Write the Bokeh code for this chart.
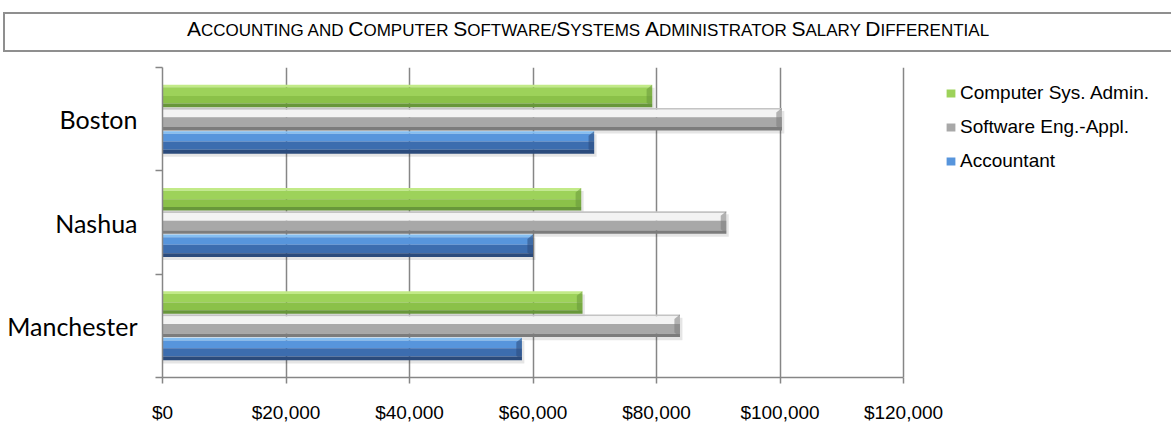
from bokeh.plotting import figure
from bokeh.models import (Range1d, FixedTicker, NumeralTickFormatter, Legend,
                          LegendItem, Div)
from bokeh.layouts import column
from bokeh.embed import file_html
from bokeh.resources import INLINE

# ---------------- data ----------------
cities = ["Manchester", "Nashua", "Boston"]
series_names = ["Computer Sys. Admin.", "Software Eng.-Appl.", "Accountant"]
sysadmin = [68000, 67800, 79300]
software = [83800, 91300, 100300]
accountant = [58200, 60000, 69900]
x_ticks = [0, 20000, 40000, 60000, 80000, 100000, 120000]
title_text = "Accounting and Computer Software/Systems Administrator Salary Differential"

series_values = [sysadmin, software, accountant]

# ---------------- styles ----------------
offsets = [0.225, 0.0, -0.225]
bar_h = 0.218
layers = [
    [(0.00, 0.12, "#c2ea88"), (0.12, 0.50, "#9dd25a"), (0.50, 0.84, "#8bc149"), (0.84, 1.00, "#68973a")],
    [(0.00, 0.08, "#c4c4c4"), (0.08, 0.42, "#f3f3f3"), (0.42, 0.85, "#a8a8a8"), (0.85, 1.00, "#7c7c7c")],
    [(0.00, 0.12, "#85bff2"), (0.12, 0.46, "#5795dc"), (0.46, 0.83, "#3c6daf"), (0.83, 1.00, "#2b4b7c")],
]
legend_layer = [1, 2, 1]
axis_col = "#868686"

# frame: 741 px for 0..120000, extended to the right edge so the legend sits inside
frame_left, frame_right_edge, px_full = 162, 1171, 741
x_end = x_ticks[-1] * (frame_right_edge - frame_left) / px_full

p = figure(width=1171, height=373, output_backend="svg", toolbar_location=None,
           x_range=Range1d(0, x_end), y_range=Range1d(0, 3),
           min_border_left=frame_left, min_border_right=0, min_border_top=15,
           min_border_bottom=48)
p.outline_line_color = None
p.background_fill_color = "white"
p.border_fill_color = "white"

# shadows
for k, vals in enumerate(series_values):
    ys = [i + 0.5 + offsets[k] - 0.03 for i in range(len(cities))]
    p.hbar(y=ys, left=0, right=[v + 400 for v in vals], height=bar_h,
           fill_color="black", fill_alpha=0.10, line_color=None)

legend_renderers = []
for k, vals in enumerate(series_values):
    for li, (ft, fb, col) in enumerate(layers[k]):
        ys = [i + 0.5 + offsets[k] + bar_h * (0.5 - (ft + fb) / 2) for i in range(len(cities))]
        r = p.hbar(y=ys, left=0, right=vals, height=bar_h * (fb - ft),
                   fill_color=col, line_color=None)
        if li == legend_layer[k]:
            legend_renderers.append(r)
    # right-end bevel facet
    xs, yy = [], []
    for i, v in enumerate(vals):
        yc = i + 0.5 + offsets[k]
        d = 900
        xs.append([v - d, v, v, v - d])
        yy.append([yc + bar_h * 0.3, yc + bar_h * 0.5, yc - bar_h * 0.5, yc - bar_h * 0.3])
    p.patches(xs, yy, fill_color=layers[k][3][2], fill_alpha=0.55, line_color=None)

# grid
p.xgrid.ticker = FixedTicker(ticks=x_ticks)
p.xgrid.grid_line_color = axis_col
p.xgrid.grid_line_width = 1.5
p.ygrid.grid_line_color = None

# x axis
xa = p.xaxis[0]
xa.ticker = FixedTicker(ticks=x_ticks)
xa.bounds = (x_ticks[0], x_ticks[-1])
xa.formatter = NumeralTickFormatter(format="$0,0")
xa.axis_line_color = axis_col
xa.axis_line_width = 1.5
xa.major_tick_line_color = axis_col
xa.major_tick_line_width = 1.5
xa.major_tick_out = 6
xa.major_tick_in = 0
xa.minor_tick_line_color = None
xa.major_label_text_font = "Liberation Sans"
xa.major_label_text_font_size = "19px"
xa.major_label_text_color = "black"
xa.major_label_standoff = 18

# y axis
ya = p.yaxis[0]
ya.ticker = FixedTicker(ticks=[i + 0.5 for i in range(len(cities))],
                        minor_ticks=[i for i in range(len(cities) + 1)])
ya.major_label_overrides = {i + 0.5: c for i, c in enumerate(cities)}
ya.axis_line_color = axis_col
ya.axis_line_width = 1.5
ya.major_tick_line_color = None
ya.major_tick_out = 7
ya.major_tick_in = 0
ya.minor_tick_line_color = axis_col
ya.minor_tick_line_width = 1.5
ya.minor_tick_out = 7
ya.minor_tick_in = 0
ya.major_label_text_font = "Lato"
ya.major_label_text_font_size = "25px"
ya.major_label_text_color = "black"
ya.major_label_standoff = 18

legend = Legend(items=[LegendItem(label=series_names[k], renderers=[legend_renderers[k]])
                       for k in range(3)],
                location=(783, 205), orientation="vertical",
                glyph_width=11, glyph_height=10, label_standoff=4,
                spacing=12, padding=0, margin=0,
                label_text_font="Liberation Sans", label_text_font_size="19px",
                label_text_color="black",
                border_line_color=None, background_fill_alpha=0)
p.add_layout(legend, "center")

# ---------------- title box ----------------
def small_caps_html(s, big=21, small=17):
    parts = []
    for ch in s:
        size = big if ch.isupper() else small
        parts.append((ch.upper(), size))
    html = []
    cur, cur_size = "", None
    for ch, size in parts:
        if size != cur_size and cur:
            html.append('<span style="font-size:%dpx">%s</span>' % (cur_size, cur))
            cur = ""
        cur_size = size
        cur += ch
    if cur:
        html.append('<span style="font-size:%dpx">%s</span>' % (cur_size, cur))
    return "".join(html)

div = Div(text=small_caps_html(title_text), width=1168, height=40,
          margin=(12, 0, 0, 3),
          styles={"border": "2px solid #8f8f8f", "border-right": "none",
                  "box-sizing": "border-box",
                  "text-align": "center", "font-family": "Liberation Sans",
                  "color": "black", "padding-top": "3px", "line-height": "24px",
                  "background": "white"})

layout = column(div, p, spacing=0)
open("out.html", "w").write(file_html(layout, INLINE))
